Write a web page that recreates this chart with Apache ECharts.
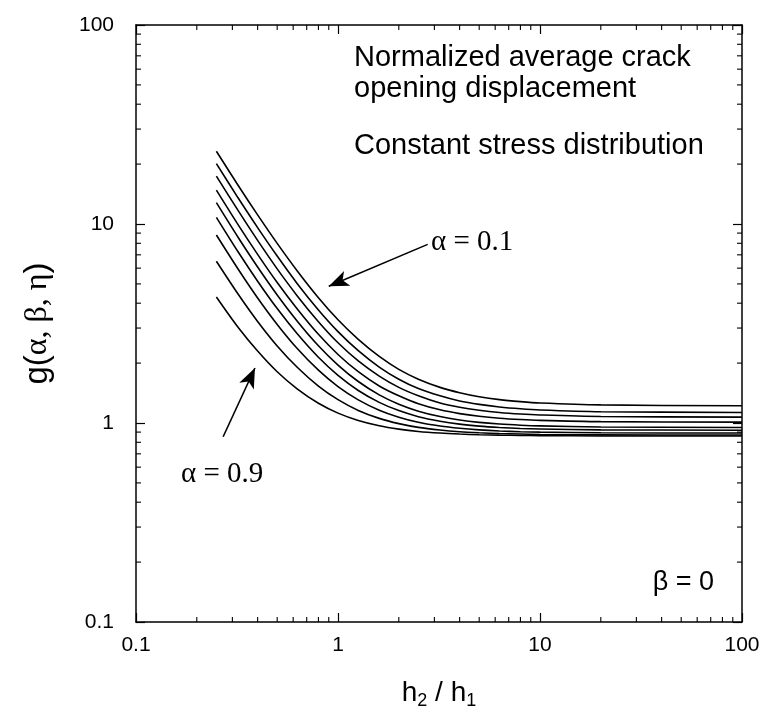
<!DOCTYPE html>
<html><head><meta charset="utf-8">
<script src="https://cdn.jsdelivr.net/npm/echarts@6/dist/echarts.min.js"></script>
<style>html,body{margin:0;padding:0;background:#fff}#c{width:763px;height:715px}</style>
</head><body><div id="c"></div>
<script>
const xValues = [0.25, 0.32, 0.4, 0.5, 0.63, 0.8, 1, 1.26, 1.6, 2, 2.5, 3.2, 4, 5, 6.3, 8, 10, 20, 100];
const a01 = [23.2, 15.66, 11.11, 7.99, 5.79, 4.26, 3.30, 2.63, 2.16, 1.86, 1.66, 1.51, 1.42, 1.355, 1.31, 1.28, 1.26, 1.233, 1.22];
const a02 = [20.1, 13.54, 9.59, 6.90, 5.00, 3.70, 2.88, 2.31, 1.91, 1.66, 1.49, 1.37, 1.29, 1.24, 1.204, 1.179, 1.163, 1.14, 1.13];
const a03 = [17.4, 11.70, 8.27, 5.95, 4.34, 3.23, 2.53, 2.05, 1.72, 1.51, 1.37, 1.26, 1.20, 1.159, 1.129, 1.109, 1.097, 1.078, 1.07];
const a04 = [14.8, 9.93, 7.04, 5.08, 3.73, 2.79, 2.21, 1.81, 1.535, 1.37, 1.25, 1.165, 1.115, 1.081, 1.057, 1.041, 1.031, 1.016, 1.01];
const a05 = [12.8, 8.58, 6.08, 4.40, 3.24, 2.445, 1.955, 1.616, 1.385, 1.243, 1.147, 1.077, 1.035, 1.007, 0.988, 0.975, 0.967, 0.955, 0.95];
const a06 = [10.8, 7.25, 5.16, 3.76, 2.80, 2.14, 1.735, 1.457, 1.27, 1.154, 1.076, 1.021, 0.987, 0.965, 0.95, 0.939, 0.933, 0.924, 0.92];
const a07 = [8.8, 5.94, 4.25, 3.13, 2.36, 1.842, 1.524, 1.307, 1.16, 1.07, 1.009, 0.966, 0.941, 0.924, 0.912, 0.904, 0.90, 0.893, 0.89];
const a08 = [6.5, 4.45, 3.24, 2.44, 1.90, 1.533, 1.31, 1.157, 1.055, 0.993, 0.951, 0.922, 0.904, 0.893, 0.885, 0.88, 0.876, 0.872, 0.87];
const a09 = [4.3, 3.03, 2.30, 1.81, 1.48, 1.256, 1.121, 1.03, 0.969, 0.932, 0.907, 0.89, 0.88, 0.873, 0.869, 0.866, 0.864, 0.861, 0.86];
const seriesNames = ['α = 0.1','α = 0.2','α = 0.3','α = 0.4','α = 0.5','α = 0.6','α = 0.7','α = 0.8','α = 0.9'];
const seriesValues = [a01, a02, a03, a04, a05, a06, a07, a08, a09];
const majorTicks = [0.1, 1, 10, 100];
const minorTicks = [0.2,0.3,0.4,0.5,0.6,0.7,0.8,0.9,2,3,4,5,6,7,8,9,20,30,40,50,60,70,80,90];
const arrowTop = [[2.78, 7.9], [0.9, 4.87]];
const arrowBottom = [[0.27, 0.853], [0.388, 1.89]];

const chart = echarts.init(document.getElementById('c'), null, {renderer: 'canvas'});
const SANS = '"Liberation Sans", Arial, sans-serif';
const SERIF = '"Liberation Serif", "Times New Roman", serif';
const axisCommon = {
  type: 'log', logBase: 10, min: 0.1, max: 100,
  axisLine: {show: true, onZero: false, lineStyle: {color: '#000', width: 1.5}},
  axisTick: {show: true, inside: true, length: 9, lineStyle: {color: '#000', width: 1.2}},
  splitLine: {show: false},
  minorTick: {show: false}
};
const lineSeries = seriesValues.map((vals, i) => ({
  name: seriesNames[i], type: 'line', xAxisIndex: 0, yAxisIndex: 0,
  data: xValues.map((x, j) => [x, vals[j]]),
  showSymbol: false, smooth: 0.3,
  lineStyle: {color: '#000', width: 1.6}, z: 3
}));
lineSeries[0].markLine = {
  silent: true, animation: false, symbol: ['none', 'arrow'], symbolSize: [12, 20],
  label: {show: false},
  lineStyle: {color: '#000', width: 1.6, type: 'solid'},
  data: [
    [{coord: arrowTop[0]}, {coord: arrowTop[1]}],
    [{coord: arrowBottom[0]}, {coord: arrowBottom[1]}]
  ]
};
const tickData = [];
minorTicks.forEach(v => { tickData.push([v, 1, 0]); tickData.push([v, 1, 1]); tickData.push([1, v, 2]); tickData.push([1, v, 3]); });
const tickSeries = {
  type: 'custom', xAxisIndex: 0, yAxisIndex: 0, silent: true, clip: false, z: 5,
  data: tickData,
  renderItem: function (params, api) {
    const side = api.value(2);
    const L = 5;
    let p, shape;
    if (side === 0) { p = api.coord([api.value(0), 0.1]); shape = {x1: p[0], y1: p[1], x2: p[0], y2: p[1] - L}; }
    else if (side === 1) { p = api.coord([api.value(0), 100]); shape = {x1: p[0], y1: p[1], x2: p[0], y2: p[1] + L}; }
    else if (side === 2) { p = api.coord([0.1, api.value(1)]); shape = {x1: p[0], y1: p[1], x2: p[0] + L, y2: p[1]}; }
    else { p = api.coord([100, api.value(1)]); shape = {x1: p[0], y1: p[1], x2: p[0] - L, y2: p[1]}; }
    return {type: 'line', shape: shape, style: {stroke: '#000', lineWidth: 1.1}};
  }
};
const option = {
  animation: false,
  backgroundColor: '#fff',
  grid: {left: 136, right: 21, top: 25, bottom: 84, containLabel: false},
  xAxis: [
    Object.assign({}, axisCommon, {
      position: 'bottom',
      axisLabel: {show: true, color: '#000', fontSize: 21, fontFamily: SANS, margin: 13,
        formatter: v => (majorTicks.indexOf(v) >= 0 ? String(v) : '')},
      name: 'h{s|2} / h{s|1}', nameLocation: 'middle', nameGap: 54,
      nameTextStyle: {color: '#000', fontSize: 28, fontFamily: SANS,
        rich: {s: {fontSize: 18, fontFamily: SANS, color: '#000', verticalAlign: 'bottom', padding: [16, 0, 0, 0]}}}
    }),
    Object.assign({}, axisCommon, {position: 'top', axisLabel: {show: false}})
  ],
  yAxis: [
    Object.assign({}, axisCommon, {
      position: 'left',
      axisLabel: {show: true, color: '#000', fontSize: 21, fontFamily: SANS, margin: 22,
        formatter: v => (majorTicks.indexOf(v) >= 0 ? String(v) : '')},
      name: '{a|g(}{b|α, β, η}{a|)}', nameLocation: 'middle', nameGap: 82, nameRotate: 90,
      nameTextStyle: {color: '#000', fontSize: 33,
        rich: {a: {fontSize: 33, fontFamily: SANS, color: '#000'}, b: {fontSize: 32, fontFamily: SERIF, color: '#000'}}}
    }),
    Object.assign({}, axisCommon, {position: 'right', axisLabel: {show: false}})
  ],
  graphic: [
    {type: 'text', x: 354, y: 58, style: {text: 'Normalized average crack', font: '29px "Liberation Sans", Arial, sans-serif', fill: '#000', verticalAlign: 'middle'}},
    {type: 'text', x: 354, y: 89, style: {text: 'opening displacement', font: '29px "Liberation Sans", Arial, sans-serif', fill: '#000', verticalAlign: 'middle'}},
    {type: 'text', x: 354, y: 146, style: {text: 'Constant stress distribution', font: '29px "Liberation Sans", Arial, sans-serif', fill: '#000', verticalAlign: 'middle'}},
    {type: 'text', x: 714, y: 583, style: {text: 'β = 0', font: '27px "Liberation Sans", Arial, sans-serif', fill: '#000', align: 'right', verticalAlign: 'middle'}},
    {type: 'text', x: 431, y: 242, style: {text: 'α = 0.1', font: '29px "Liberation Serif", "Times New Roman", serif', fill: '#000', verticalAlign: 'middle'}},
    {type: 'text', x: 181, y: 474, style: {text: 'α = 0.9', font: '29px "Liberation Serif", "Times New Roman", serif', fill: '#000', verticalAlign: 'middle'}}
  ],
  series: lineSeries.concat([tickSeries])
};
chart.setOption(option);
</script>
</body></html>
